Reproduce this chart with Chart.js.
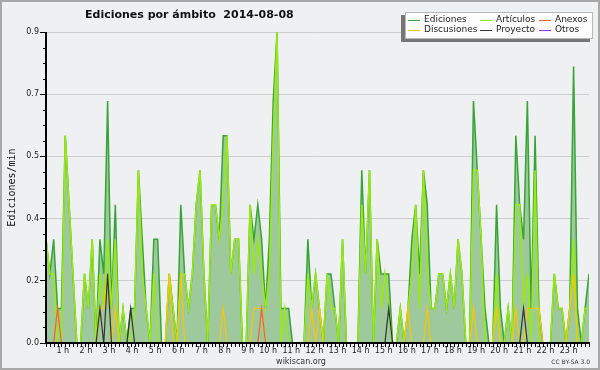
<!DOCTYPE html>
<html>
<head>
<meta charset="utf-8">
<script src="https://cdn.jsdelivr.net/npm/chart.js@4.4.1/dist/chart.umd.min.js"></script>
<style>
  html, body { margin: 0; padding: 0; background: #eff0f1; }
  canvas { display: block; }
</style>
</head>
<body>
<canvas id="chart" width="600" height="370"></canvas>
<script>
// ------------------------------------
// Data (10-minute slots, edits per minute)
// ------------------------------------
const hourTicks = [1, 2, 3, 4, 5, 6, 7, 8, 9, 10, 11, 12, 13, 14, 15, 16, 17, 18, 19, 20, 21, 22, 23];
const yTicks = [0, 0.18, 0.36, 0.54, 0.72, 0.9];

const ediciones = [
    .3, .2, .3, .1, .1, .6, .4, .2, 0, 0,
    .2, .1, .3, 0, .3, .2, .7, .1, .4, 0,
    .1, 0, .1, .1, .5, .3, .1, 0, .3, .3,
    0, 0, .2, .1, 0, .4, .2, .1, .2, .4,
    .5, .2, 0, .4, .4, .3, .6, .6, .2, .3,
    .3, 0, 0, .4, .3, .4, .3, .1, .3, .7,
    .9, .1, .1, .1, 0, 0, 0, 0, .3, .1,
    .2, .1, 0, .2, .2, .1, 0, .3, 0, 0,
    0, 0, .5, .2, .5, 0, .3, .2, .2, .2,
    0, 0, .1, 0, .1, .3, .4, .2, .5, .4,
    .1, .1, .2, .2, .1, .2, .1, .3, .2, 0,
    0, .7, .5, .3, .1, 0, 0, .4, .1, 0,
    .1, 0, .6, .4, .3, .7, .1, .6, .1, 0,
    0, 0, .2, .1, .1, 0, .1, .8, .1, 0,
    .1, .2
];
const articulos = [
    .3, .2, .2, 0, 0, .6, .4, .2, 0, 0,
    .2, .1, .3, 0, .2, .1, .3, .1, .3, 0,
    .1, 0, 0, .1, .5, .2, .1, 0, .2, 0,
    0, 0, .2, .1, 0, .2, .2, .1, .2, .4,
    .5, .2, 0, .4, .4, .3, .4, .6, .2, .3,
    .3, 0, 0, .4, .2, .3, .2, .1, .2, .6,
    .9, 0, .1, 0, 0, 0, 0, 0, .2, .1,
    .2, .1, 0, .2, .1, .1, 0, .3, 0, 0,
    0, 0, .4, .2, .5, 0, .3, .1, .2, .1,
    0, 0, .1, 0, .1, .2, .4, .1, .5, .2,
    .1, .1, .2, .2, .1, .2, .1, .3, .2, 0,
    0, .5, .5, .3, 0, 0, 0, .2, 0, 0,
    .1, 0, .4, .4, .1, .2, 0, .5, 0, 0,
    0, 0, .2, .1, .1, 0, .1, .3, 0, 0,
    .1, .1
];
const anexos = [
    0, 0, 0, .1, 0, 0, 0, 0, 0, 0,
    0, 0, 0, 0, 0, 0, 0, 0, 0, 0,
    0, 0, 0, 0, 0, 0, 0, 0, 0, 0,
    0, 0, 0, 0, 0, 0, 0, 0, 0, 0,
    0, 0, 0, 0, 0, 0, 0, 0, 0, 0,
    0, 0, 0, 0, 0, 0, .1, 0, 0, 0,
    0, 0, 0, 0, 0, 0, 0, 0, 0, 0,
    0, 0, 0, 0, 0, 0, 0, 0, 0, 0,
    0, 0, 0, 0, 0, 0, 0, 0, 0, 0,
    0, 0, 0, 0, 0, 0, 0, 0, 0, 0,
    0, 0, 0, 0, 0, 0, 0, 0, 0, 0,
    0, 0, 0, 0, 0, 0, 0, 0, 0, 0,
    0, 0, 0, 0, 0, 0, 0, 0, 0, 0,
    0, 0, 0, 0, 0, 0, 0, 0, 0, 0,
    0, 0
];
const discusiones = [
    0, 0, 0, 0, 0, 0, 0, 0, 0, 0,
    0, 0, 0, 0, .1, .1, .2, 0, .1, 0,
    0, 0, 0, 0, 0, 0, 0, 0, 0, 0,
    0, 0, .2, 0, 0, .2, 0, 0, 0, 0,
    0, 0, 0, 0, 0, 0, .1, 0, 0, 0,
    0, 0, 0, 0, .1, .1, .1, 0, 0, 0,
    0, 0, 0, 0, 0, 0, 0, 0, 0, .1,
    0, .1, 0, 0, 0, 0, 0, 0, 0, 0,
    0, 0, 0, 0, 0, 0, 0, 0, 0, 0,
    0, 0, 0, 0, .1, 0, 0, 0, 0, .1,
    0, 0, 0, 0, 0, 0, 0, 0, 0, 0,
    0, .1, 0, 0, 0, 0, 0, .1, 0, 0,
    0, 0, .1, 0, 0, .1, .1, .1, .1, 0,
    0, 0, 0, 0, 0, 0, .1, .2, 0, 0,
    0, 0
];
const proyecto = [
    0, 0, 0, 0, 0, 0, 0, 0, 0, 0,
    0, 0, 0, 0, .1, 0, .2, 0, 0, 0,
    0, 0, .1, 0, 0, 0, 0, 0, 0, 0,
    0, 0, 0, 0, 0, 0, 0, 0, 0, 0,
    0, 0, 0, 0, 0, 0, 0, 0, 0, 0,
    0, 0, 0, 0, 0, 0, 0, 0, 0, 0,
    0, 0, 0, 0, 0, 0, 0, 0, 0, 0,
    0, 0, 0, 0, 0, 0, 0, 0, 0, 0,
    0, 0, 0, 0, 0, 0, 0, 0, 0, .1,
    0, 0, 0, 0, 0, 0, 0, 0, 0, 0,
    0, 0, 0, 0, 0, 0, 0, 0, 0, 0,
    0, 0, 0, 0, 0, 0, 0, 0, 0, 0,
    0, 0, 0, 0, .1, 0, 0, 0, 0, 0,
    0, 0, 0, 0, 0, 0, 0, 0, 0, 0,
    0, 0
];
const otros = [
    0, 0, 0, 0, 0, 0, 0, 0, 0, 0,
    0, 0, 0, 0, 0, 0, 0, 0, 0, 0,
    0, 0, 0, 0, 0, 0, 0, 0, 0, 0,
    0, 0, 0, 0, 0, 0, 0, 0, 0, 0,
    0, 0, 0, 0, 0, 0, 0, 0, 0, 0,
    0, 0, 0, 0, 0, 0, 0, 0, 0, 0,
    0, 0, 0, 0, 0, 0, 0, 0, 0, 0,
    0, 0, 0, 0, 0, 0, 0, 0, 0, 0,
    0, 0, 0, 0, 0, 0, 0, 0, 0, 0,
    0, 0, 0, 0, 0, 0, 0, 0, 0, 0,
    0, 0, 0, 0, 0, 0, 0, 0, 0, 0,
    0, 0, 0, 0, 0, 0, 0, 0, 0, 0,
    0, 0, 0, 0, 0, 0, 0, 0, 0, 0,
    0, 0, 0, 0, 0, 0, 0, 0, 0, 0,
    0, 0
];
const slots = ediciones.map((_, i) => i);

// legend layout: [label, column, row]
const legendEntries = [
    ['Ediciones', 0, 0], ['Artículos', 1, 0], ['Anexos', 2, 0],
    ['Discusiones', 0, 1], ['Proyecto', 1, 1], ['Otros', 2, 1]
];

// ------------------------------------
// Decorations: background, axes on top, title, legend box
// ------------------------------------
const decor = {
    id: 'decor',
    beforeDraw(chart) {
        const c = chart.ctx;
        c.save();
        c.fillStyle = '#eff0f1';
        c.fillRect(0, 0, chart.width, chart.height);
        c.strokeStyle = '#a8a8a8';
        c.lineWidth = 2;
        c.strokeRect(1, 1, chart.width - 2, chart.height - 2);
        c.restore();
    },
    afterDatasetsDraw(chart) {
        const { ctx: c, chartArea: a, scales: { x, y } } = chart;
        c.save();
        c.strokeStyle = '#000';
        c.lineWidth = 1;
        c.beginPath();
        slots.forEach(i => {
            const px = Math.round(x.getPixelForValue(i)) + 0.5;
            c.moveTo(px, a.bottom);
            c.lineTo(px, a.bottom + 4);
        });
        for (let k = 0; k < yTicks.length - 1; k++) {
            for (let q = 1; q < 4; q++) {
                const v = yTicks[k] + (yTicks[k + 1] - yTicks[k]) * q / 4;
                const py = Math.round(y.getPixelForValue(v)) + 0.5;
                c.moveTo(a.left - 3, py);
                c.lineTo(a.left, py);
            }
        }
        c.stroke();
        c.lineWidth = 2;
        c.beginPath();
        c.moveTo(a.left, a.top);
        c.lineTo(a.left, a.bottom);
        c.lineTo(a.right + 1, a.bottom);
        c.stroke();
        c.restore();
    },
    afterDraw(chart) {
        const c = chart.ctx;
        c.save();
        // title
        c.fillStyle = '#111';
        c.font = 'bold 11px "DejaVu Sans"';
        c.textAlign = 'left';
        c.textBaseline = 'alphabetic';
        c.fillText('Ediciones por ámbito  2014-08-08', 85, 18);

        // legend box with shadow
        c.fillStyle = '#777';
        c.fillRect(401, 15, 189, 27);
        c.fillStyle = '#fdfdfd';
        c.fillRect(405, 12, 188, 27);
        c.strokeStyle = '#b8b8b8';
        c.lineWidth = 1;
        c.strokeRect(405.5, 12.5, 187, 26);

        const colX = [408, 480, 539];
        const rowY = [19.5, 29.5];
        c.font = '9px "DejaVu Sans"';
        c.textBaseline = 'middle';
        legendEntries.forEach(([label, col, row]) => {
            const ds = chart.data.datasets.find(d => d.label === label);
            const lx = colX[col], ly = Math.round(rowY[row]) + 0.5;
            c.strokeStyle = ds.borderColor;
            c.lineWidth = 1;
            c.beginPath();
            c.moveTo(lx, ly);
            c.lineTo(lx + 12, ly);
            c.stroke();
            c.fillStyle = '#222';
            c.fillText(label, lx + 16, rowY[row]);
        });

        // footer
        c.textBaseline = 'alphabetic';
        c.fillStyle = '#333';
        c.font = '8px "DejaVu Sans"';
        c.textAlign = 'center';
        c.fillText('wikiscan.org', 301, 364);
        c.font = '6px "DejaVu Sans"';
        c.textAlign = 'right';
        c.fillText('CC BY-SA 3.0', 590, 364);
        c.restore();
    }
};

// ------------------------------------
// Chart
// ------------------------------------
function lineSet(label, data, color, width, order, extra) {
    return Object.assign({
        label, data,
        borderColor: color,
        borderWidth: width,
        pointRadius: 0,
        tension: 0,
        fill: false,
        order
    }, extra || {});
}

window.onload = function() {
    new Chart(document.getElementById('chart'), {
        type: 'line',
        data: {
            labels: slots,
            datasets: [
                lineSet('Otros', otros, '#9933ee', 1, 7),
                lineSet('Ediciones', ediciones, '#35a535', 1.5, 6, { fill: 'origin', backgroundColor: '#9dc99d' }),
                lineSet('Artículos', articulos, '#99ea10', 1.5, 5),
                lineSet('Discusiones', discusiones, '#ffc400', 1.2, 4),
                lineSet('Anexos', anexos, '#ff6020', 1.2, 3),
                lineSet('Proyecto', proyecto, '#333333', 1.2, 2)
            ]
        },
        options: {
            responsive: false,
            animation: false,
            layout: { padding: { top: 32, right: 11, left: 0, bottom: 0 } },
            plugins: {
                legend: { display: false },
                title: { display: false },
                tooltip: { enabled: false }
            },
            scales: {
                x: {
                    type: 'linear',
                    min: 0,
                    max: slots.length - 1,
                    grid: { display: false, drawTicks: false },
                    border: { display: false },
                    afterBuildTicks: s => { s.ticks = hourTicks.map(h => ({ value: h * 6 })); },
                    ticks: {
                        autoSkip: false,
                        maxRotation: 0,
                        align: 'end',
                        padding: 3,
                        color: '#222',
                        font: { family: 'DejaVu Sans', size: 8 },
                        callback: (v, i) => hourTicks[i] + ' h'
                    },
                    afterFit: s => { s.height = 27; }
                },
                y: {
                    min: 0,
                    max: 0.9,
                    afterBuildTicks: s => { s.ticks = yTicks.map(v => ({ value: v })); },
                    ticks: {
                        padding: 1,
                        color: '#222',
                        font: { family: 'DejaVu Sans', size: 8 },
                        callback: v => v.toFixed(1)
                    },
                    grid: { color: '#cdcdcd', lineWidth: 1, tickColor: '#000', tickLength: 6 },
                    border: { display: false },
                    title: {
                        display: true,
                        text: 'Ediciones/min',
                        color: '#111',
                        font: { family: 'DejaVu Sans Mono', size: 10 },
                        padding: { top: 6, bottom: 0 }
                    },
                    afterFit: s => { s.width = 46; }
                }
            }
        },
        plugins: [decor]
    });
};
</script>
</body>
</html>
